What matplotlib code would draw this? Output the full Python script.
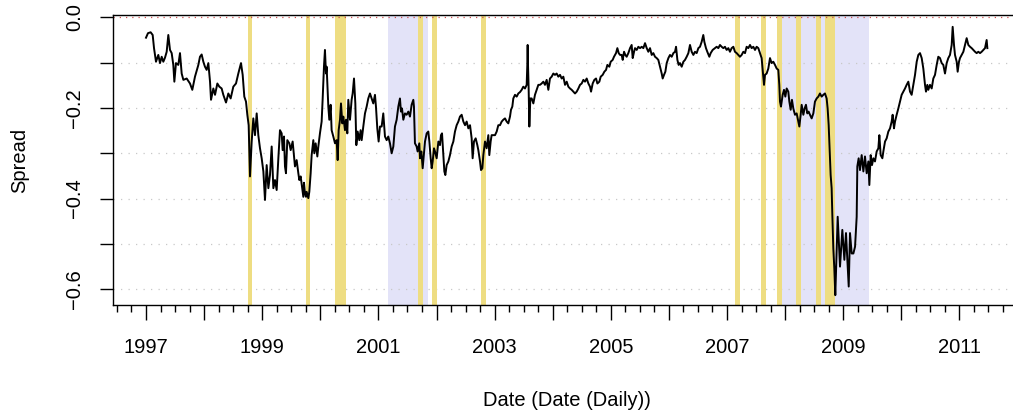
import numpy as np
import matplotlib
matplotlib.use('Agg')
import matplotlib.pyplot as plt

# spread observations (decimal year, value), one list per stretch of the sample
spread_1997_1999 = [
    (1997.000, -0.045), (1997.034, -0.035), (1997.080, -0.033), (1997.115, -0.039), (1997.138, -0.068),
    (1997.172, -0.098), (1997.212, -0.083), (1997.241, -0.101), (1997.270, -0.087), (1997.298, -0.098),
    (1997.327, -0.089), (1997.356, -0.076), (1997.384, -0.039), (1997.413, -0.072), (1997.442, -0.079),
    (1997.470, -0.105), (1997.488, -0.142), (1997.516, -0.101), (1997.556, -0.105), (1997.585, -0.079),
    (1997.614, -0.124), (1997.643, -0.138), (1997.700, -0.135), (1997.757, -0.146), (1997.797, -0.160),
    (1997.843, -0.131), (1997.901, -0.105), (1997.929, -0.087), (1997.958, -0.082), (1997.987, -0.098),
    (1998.015, -0.109), (1998.044, -0.116), (1998.073, -0.101), (1998.102, -0.142), (1998.119, -0.182),
    (1998.159, -0.157), (1998.188, -0.171), (1998.228, -0.146), (1998.262, -0.153), (1998.302, -0.157),
    (1998.331, -0.171), (1998.377, -0.188), (1998.417, -0.168), (1998.457, -0.179), (1998.503, -0.153),
    (1998.549, -0.146), (1998.589, -0.124), (1998.635, -0.101), (1998.664, -0.127), (1998.692, -0.175),
    (1998.721, -0.186), (1998.744, -0.215), (1998.767, -0.238), (1998.790, -0.351), (1998.819, -0.274),
    (1998.847, -0.223), (1998.876, -0.260), (1998.905, -0.212), (1998.933, -0.260), (1998.962, -0.289),
    (1998.991, -0.311), (1999.020, -0.340), (1999.048, -0.403), (1999.077, -0.326), (1999.106, -0.377),
    (1999.134, -0.348), (1999.163, -0.285), (1999.192, -0.377), (1999.220, -0.359), (1999.249, -0.381),
    (1999.278, -0.311),
]

spread_1999_2001 = [
    (1999.306, -0.249), (1999.335, -0.256), (1999.352, -0.293), (1999.375, -0.263), (1999.392, -0.329),
    (1999.409, -0.344), (1999.432, -0.271), (1999.467, -0.278), (1999.490, -0.293), (1999.524, -0.274),
    (1999.547, -0.307), (1999.564, -0.329), (1999.593, -0.315), (1999.622, -0.344), (1999.639, -0.359),
    (1999.662, -0.351), (1999.685, -0.374), (1999.708, -0.396), (1999.719, -0.365), (1999.736, -0.388),
    (1999.753, -0.396), (1999.765, -0.385), (1999.794, -0.399), (1999.811, -0.385), (1999.834, -0.344),
    (1999.851, -0.304), (1999.880, -0.271), (1999.897, -0.300), (1999.920, -0.278), (1999.949, -0.307),
    (1999.966, -0.285), (1999.994, -0.256), (2000.023, -0.230), (2000.040, -0.182), (2000.063, -0.109),
    (2000.080, -0.072), (2000.098, -0.124), (2000.109, -0.109), (2000.121, -0.146), (2000.138, -0.197),
    (2000.155, -0.226), (2000.178, -0.193), (2000.195, -0.249), (2000.224, -0.263), (2000.253, -0.278),
    (2000.281, -0.271), (2000.299, -0.315), (2000.316, -0.249), (2000.339, -0.226), (2000.356, -0.190),
    (2000.379, -0.234), (2000.396, -0.219), (2000.425, -0.249), (2000.442, -0.226), (2000.465, -0.256),
    (2000.482, -0.182), (2000.511, -0.226), (2000.539, -0.182), (2000.557, -0.168), (2000.580, -0.135),
    (2000.603, -0.190), (2000.620, -0.282), (2000.643, -0.252), (2000.671, -0.271), (2000.694, -0.249),
    (2000.712, -0.271), (2000.740, -0.241), (2000.769, -0.212), (2000.798, -0.197), (2000.826, -0.179),
    (2000.855, -0.168), (2000.884, -0.179), (2000.912, -0.190), (2000.941, -0.171), (2000.958, -0.197),
    (2000.981, -0.245), (2001.004, -0.274), (2001.027, -0.241), (2001.056, -0.241), (2001.084, -0.212),
    (2001.113, -0.263), (2001.142, -0.271), (2001.170, -0.263), (2001.199, -0.278), (2001.228, -0.300),
    (2001.257, -0.285), (2001.285, -0.241), (2001.314, -0.226), (2001.343, -0.197), (2001.371, -0.179),
    (2001.388, -0.208), (2001.406, -0.201), (2001.429, -0.226), (2001.457, -0.212), (2001.486, -0.215),
    (2001.515, -0.208), (2001.543, -0.219), (2001.572, -0.193), (2001.601, -0.182), (2001.612, -0.197),
    (2001.629, -0.278), (2001.658, -0.285), (2001.675, -0.296), (2001.704, -0.278),
]

spread_2001_2004 = [
    (2001.716, -0.311), (2001.739, -0.296), (2001.762, -0.333), (2001.802, -0.274), (2001.831, -0.256),
    (2001.859, -0.252), (2001.877, -0.274), (2001.900, -0.311), (2001.917, -0.333), (2001.934, -0.318),
    (2001.957, -0.289), (2001.974, -0.296), (2002.003, -0.311), (2002.032, -0.274), (2002.060, -0.282),
    (2002.077, -0.260), (2002.095, -0.256), (2002.118, -0.304), (2002.135, -0.340), (2002.152, -0.348),
    (2002.175, -0.326), (2002.204, -0.318), (2002.232, -0.304), (2002.261, -0.285), (2002.290, -0.274),
    (2002.318, -0.252), (2002.347, -0.238), (2002.376, -0.230), (2002.404, -0.219), (2002.433, -0.215),
    (2002.462, -0.230), (2002.491, -0.238), (2002.519, -0.230), (2002.548, -0.245), (2002.577, -0.238),
    (2002.605, -0.267), (2002.622, -0.311), (2002.645, -0.274), (2002.674, -0.267), (2002.703, -0.282),
    (2002.720, -0.293), (2002.749, -0.318), (2002.766, -0.337), (2002.789, -0.333), (2002.806, -0.304),
    (2002.835, -0.274), (2002.863, -0.289), (2002.892, -0.260), (2002.909, -0.304), (2002.932, -0.274),
    (2002.949, -0.260), (2002.978, -0.260), (2003.007, -0.260), (2003.036, -0.252), (2003.064, -0.238),
    (2003.093, -0.238), (2003.122, -0.230), (2003.150, -0.226), (2003.179, -0.223), (2003.208, -0.230),
    (2003.236, -0.234), (2003.265, -0.219), (2003.282, -0.204), (2003.305, -0.197), (2003.322, -0.179),
    (2003.351, -0.171), (2003.380, -0.175), (2003.408, -0.168), (2003.437, -0.165), (2003.466, -0.160),
    (2003.494, -0.153), (2003.523, -0.157), (2003.552, -0.149), (2003.563, -0.105), (2003.569, -0.061),
    (2003.575, -0.105), (2003.586, -0.157), (2003.598, -0.241), (2003.615, -0.179), (2003.638, -0.179),
    (2003.667, -0.190), (2003.695, -0.171), (2003.724, -0.160), (2003.753, -0.149), (2003.781, -0.149),
    (2003.810, -0.146), (2003.839, -0.142), (2003.867, -0.149), (2003.896, -0.138), (2003.925, -0.160),
    (2003.953, -0.135), (2003.982, -0.131), (2004.011, -0.124), (2004.039, -0.127), (2004.068, -0.124),
    (2004.097, -0.131),
]

spread_2004_2006 = [
    (2004.126, -0.127), (2004.155, -0.135), (2004.183, -0.131), (2004.212, -0.149), (2004.241, -0.142),
    (2004.269, -0.153), (2004.298, -0.157), (2004.327, -0.160), (2004.355, -0.164), (2004.384, -0.168),
    (2004.413, -0.164), (2004.442, -0.157), (2004.470, -0.149), (2004.499, -0.146), (2004.528, -0.138),
    (2004.556, -0.142), (2004.585, -0.135), (2004.614, -0.146), (2004.642, -0.153), (2004.660, -0.164),
    (2004.688, -0.146), (2004.717, -0.138), (2004.746, -0.135), (2004.769, -0.146), (2004.803, -0.142),
    (2004.826, -0.131), (2004.860, -0.127), (2004.889, -0.120), (2004.918, -0.116), (2004.941, -0.105),
    (2004.975, -0.109), (2004.998, -0.098), (2005.032, -0.094), (2005.055, -0.087), (2005.090, -0.079),
    (2005.113, -0.068), (2005.136, -0.079), (2005.159, -0.083), (2005.187, -0.083), (2005.205, -0.094),
    (2005.228, -0.076), (2005.250, -0.083), (2005.273, -0.087), (2005.302, -0.079), (2005.331, -0.068),
    (2005.359, -0.061), (2005.377, -0.090), (2005.400, -0.076), (2005.417, -0.068), (2005.446, -0.072),
    (2005.474, -0.065), (2005.503, -0.068), (2005.532, -0.065), (2005.560, -0.068), (2005.589, -0.057),
    (2005.618, -0.068), (2005.646, -0.076), (2005.675, -0.068), (2005.704, -0.083), (2005.732, -0.079),
    (2005.761, -0.087), (2005.790, -0.090), (2005.818, -0.094), (2005.847, -0.109), (2005.876, -0.124),
    (2005.893, -0.135), (2005.916, -0.127), (2005.939, -0.120), (2005.962, -0.101), (2005.991, -0.090),
    (2006.019, -0.083), (2006.048, -0.087), (2006.077, -0.079), (2006.105, -0.076), (2006.123, -0.065),
    (2006.146, -0.094), (2006.168, -0.105), (2006.191, -0.101), (2006.220, -0.109), (2006.249, -0.098),
    (2006.277, -0.094), (2006.306, -0.087), (2006.335, -0.079), (2006.363, -0.061), (2006.392, -0.076),
    (2006.421, -0.083), (2006.449, -0.076), (2006.478, -0.079), (2006.507, -0.068),
]

spread_2006_2009 = [
    (2006.535, -0.065), (2006.564, -0.054), (2006.592, -0.039), (2006.610, -0.054), (2006.638, -0.068),
    (2006.661, -0.076), (2006.696, -0.087), (2006.719, -0.079), (2006.753, -0.072), (2006.793, -0.068),
    (2006.822, -0.065), (2006.851, -0.068), (2006.879, -0.061), (2006.908, -0.065), (2006.937, -0.068),
    (2006.965, -0.065), (2006.994, -0.072), (2007.023, -0.068), (2007.051, -0.076), (2007.080, -0.068),
    (2007.109, -0.065), (2007.137, -0.076), (2007.166, -0.079), (2007.195, -0.083), (2007.223, -0.087),
    (2007.252, -0.083), (2007.281, -0.076), (2007.310, -0.079), (2007.338, -0.065), (2007.367, -0.068),
    (2007.396, -0.061), (2007.424, -0.068), (2007.453, -0.065), (2007.482, -0.072), (2007.510, -0.065),
    (2007.539, -0.068), (2007.568, -0.079), (2007.596, -0.090), (2007.614, -0.116), (2007.637, -0.149),
    (2007.654, -0.127), (2007.682, -0.124), (2007.711, -0.113), (2007.740, -0.090), (2007.768, -0.101),
    (2007.797, -0.098), (2007.826, -0.105), (2007.855, -0.113), (2007.883, -0.116), (2007.900, -0.149),
    (2007.912, -0.186), (2007.929, -0.197), (2007.958, -0.171), (2007.981, -0.160), (2008.004, -0.175),
    (2008.027, -0.157), (2008.055, -0.164), (2008.073, -0.186), (2008.096, -0.204), (2008.118, -0.182),
    (2008.141, -0.201), (2008.170, -0.215), (2008.199, -0.212), (2008.227, -0.230), (2008.245, -0.241),
    (2008.268, -0.215), (2008.285, -0.193), (2008.314, -0.215), (2008.336, -0.201), (2008.359, -0.193),
    (2008.382, -0.212), (2008.405, -0.208), (2008.428, -0.215), (2008.457, -0.223), (2008.486, -0.212),
    (2008.514, -0.186), (2008.543, -0.179), (2008.572, -0.175), (2008.600, -0.168), (2008.629, -0.175),
    (2008.658, -0.171), (2008.686, -0.168), (2008.715, -0.179), (2008.732, -0.201), (2008.750, -0.238),
    (2008.767, -0.296), (2008.784, -0.348), (2008.801, -0.377), (2008.813, -0.436), (2008.830, -0.510),
    (2008.847, -0.554), (2008.864, -0.613), (2008.905, -0.440), (2008.945, -0.550), (2008.985, -0.469),
    (2009.020, -0.535), (2009.048, -0.476), (2009.071, -0.535), (2009.095, -0.594), (2009.117, -0.476),
    (2009.146, -0.521), (2009.175, -0.521), (2009.204, -0.506), (2009.232, -0.440),
]

spread_2009_2011 = [
    (2009.243, -0.329), (2009.266, -0.311), (2009.289, -0.337), (2009.318, -0.304), (2009.347, -0.340),
    (2009.375, -0.307), (2009.404, -0.344), (2009.433, -0.318), (2009.450, -0.370), (2009.473, -0.304),
    (2009.496, -0.326), (2009.519, -0.311), (2009.547, -0.318), (2009.576, -0.296), (2009.605, -0.289),
    (2009.622, -0.260), (2009.645, -0.304), (2009.674, -0.311), (2009.691, -0.296), (2009.720, -0.274),
    (2009.748, -0.267), (2009.777, -0.252), (2009.806, -0.245), (2009.834, -0.230), (2009.851, -0.215),
    (2009.874, -0.245), (2009.892, -0.230), (2009.920, -0.215), (2009.949, -0.201), (2009.978, -0.186),
    (2010.006, -0.171), (2010.035, -0.164), (2010.064, -0.157), (2010.092, -0.149), (2010.121, -0.142),
    (2010.150, -0.164), (2010.178, -0.171), (2010.207, -0.149), (2010.236, -0.127), (2010.265, -0.098),
    (2010.293, -0.083), (2010.322, -0.079), (2010.351, -0.090), (2010.379, -0.113), (2010.408, -0.149),
    (2010.425, -0.164), (2010.448, -0.149), (2010.465, -0.160), (2010.494, -0.149), (2010.523, -0.157),
    (2010.551, -0.135), (2010.580, -0.127), (2010.609, -0.105), (2010.637, -0.087), (2010.666, -0.090),
    (2010.695, -0.101), (2010.723, -0.105), (2010.752, -0.124), (2010.781, -0.101), (2010.809, -0.090),
    (2010.838, -0.083), (2010.867, -0.061), (2010.884, -0.021), (2010.907, -0.061), (2010.924, -0.083),
    (2010.953, -0.098), (2010.970, -0.120), (2010.993, -0.098), (2011.010, -0.090), (2011.039, -0.083),
    (2011.068, -0.076), (2011.097, -0.061), (2011.125, -0.046), (2011.154, -0.061), (2011.183, -0.065),
    (2011.211, -0.068), (2011.240, -0.072), (2011.269, -0.076), (2011.297, -0.079), (2011.326, -0.076),
    (2011.355, -0.079), (2011.383, -0.076), (2011.412, -0.072), (2011.441, -0.068), (2011.469, -0.050),
    (2011.481, -0.068),
]

# recession periods (blue) and crisis events (yellow), decimal years
recession_start = [2001.17, 2007.92]
recession_end = [2001.85, 2009.44]
event_start = [1998.76, 1999.75, 2000.25, 2001.68, 2001.92, 2002.77,
               2007.14, 2007.59, 2007.86, 2008.19, 2008.54, 2008.69]
event_end = [1998.83, 1999.83, 2000.45, 2001.76, 2002.00, 2002.85,
             2007.22, 2007.67, 2007.94, 2008.27, 2008.61, 2008.86]

year_ticks = list(range(1997, 2012))
year_labels = [str(y) if y % 2 == 1 else '' for y in year_ticks]
spread_ticks = [0.0, -0.1, -0.2, -0.3, -0.4, -0.5, -0.6]
spread_labels = ['0.0', '', '\u22120.2', '', '\u22120.4', '', '\u22120.6']

observations = (spread_1997_1999 + spread_1999_2001 + spread_2001_2004
                + spread_2004_2006 + spread_2006_2009 + spread_2009_2011)
dates = np.array([d for d, _ in observations])
spread = np.array([v for _, v in observations])

plt.rcParams['font.family'] = ['Liberation Sans', 'DejaVu Sans']

W, H = 1013, 417
fig = plt.figure(figsize=(W / 100, H / 100), dpi=100)
# plot region runs slightly past the right edge of the canvas
ax = fig.add_axes([113 / W, 112 / H, 907 / W, 290 / H])
ax.set_xlim(1996.432, 2012.043)
ax.set_ylim(-0.6347, 0.0051)

for s, e in zip(recession_start, recession_end):
    ax.axvspan(s, e, color='#E3E3F8', lw=0, zorder=0)
for s, e in zip(event_start, event_end):
    ax.axvspan(s, e, color='#EEDD82', lw=0, zorder=1)

for v in spread_ticks[1:]:
    ax.axhline(v, color='#c8c8c8', lw=0.9, ls=(0, (1, 5)), zorder=0.5)
ax.axhline(0.0, color='#d05050', lw=0.9, ls=(0, (1, 4)), zorder=2)

ax.plot(dates, spread, color='black', lw=1.4, zorder=3)

for side in ['left', 'bottom', 'top']:
    ax.spines[side].set_linewidth(1.0)
ax.spines['right'].set_visible(False)

ax.set_xticks(year_ticks)
ax.set_xticklabels(year_labels)
ax.set_xticks(np.arange(1996.5, 2012.01, 0.25), minor=True)
ax.set_yticks(spread_ticks)
ax.set_yticklabels(spread_labels, rotation=90, va='center')

ax.tick_params(axis='x', which='major', length=10.8, width=1.0, pad=13, labelsize=14.5)
ax.tick_params(axis='x', which='minor', length=5, width=1.0)
ax.tick_params(axis='y', which='major', length=9.6, width=1.0, pad=11, labelsize=14.5)

ax.set_xlabel('Date (Date (Daily))', fontsize=14.5)
ax.xaxis.set_label_coords(0.5, -0.295)
ax.set_ylabel('Spread', fontsize=14.5)
ax.yaxis.set_label_coords(-0.092, 0.5)

fig.savefig('out.png', dpi=100)
